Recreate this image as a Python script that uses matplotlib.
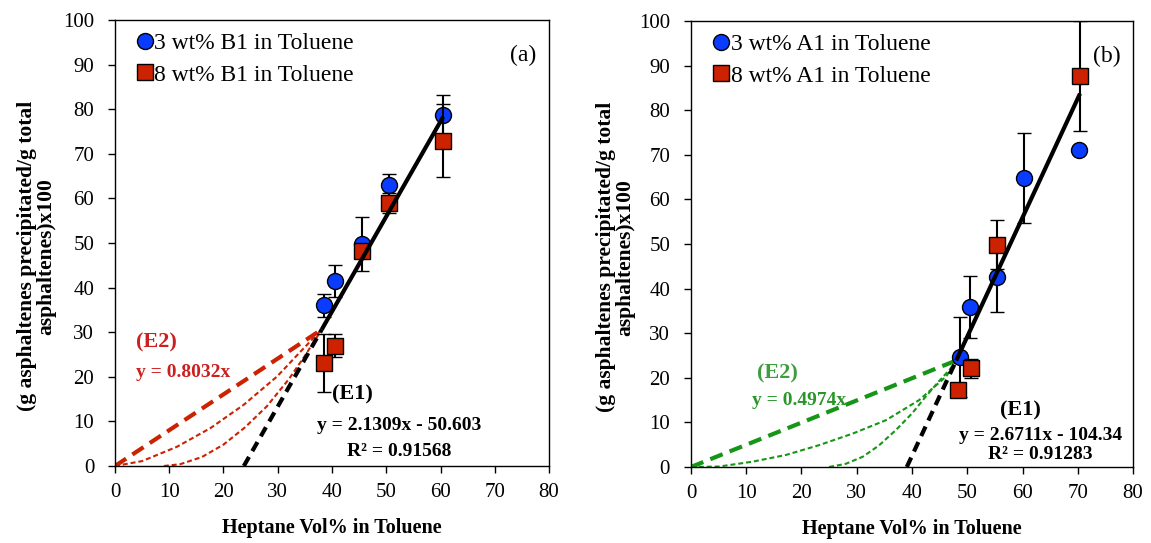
import matplotlib
matplotlib.use("Agg")
import matplotlib.pyplot as plt
from matplotlib.lines import Line2D

plt.rcParams['font.family'] = ['Liberation Serif', 'DejaVu Serif']

# panel (a): B1 data
a_blue_x = [38.5, 40.5, 45.5, 50.5, 60.5]
a_blue_y = [36.0, 41.5, 49.8, 62.9, 78.7]
a_blue_err = [2.5, 3.6, 6.0, 2.6, 4.4]
a_red_x = [38.5, 40.5, 45.5, 50.5, 60.5]
a_red_y = [23.1, 27.0, 48.2, 59.0, 72.9]
a_red_err = [6.4, 2.5, 1.5, 2.2, 8.2]

# panel (b): A1 data
b_blue_x = [48.6, 50.5, 55.3, 60.3, 70.3]
b_blue_y = [24.7, 35.9, 42.7, 64.8, 71.1]
b_blue_err = [9.0, 7.0, 8.0, 10.0, 0.0]
b_red_x = [48.3, 50.7, 55.4, 70.4]
b_red_y = [17.3, 22.1, 49.8, 87.7]
b_red_err = [0.0, 2.1, 5.5, 12.3]

# fitted lines (E1) and (E2) as printed on the chart
a_e1 = (2.1309, -50.603)
b_e1 = (2.6711, -104.34)
a_e2 = 0.8032
b_e2 = 0.4974
a_solid_x = [38.11, 60.5]
b_solid_x = [48.0, 70.4]
a_dash_x = [23.75, 38.11]
b_dash_x = [39.06, 48.0]

# hand drawn transition curves
a_mid_x = [0, 5, 11.4, 17.6, 23.7, 29.9, 34, 38.11]
a_mid_y = [0, 1.1, 4.3, 8.5, 13.7, 20.1, 25.4, 30.61]
a_low_x = [9, 12, 16, 20, 24, 28, 32, 35, 38.11]
a_low_y = [0, 0.4, 2.0, 4.8, 8.7, 13.4, 19.4, 24.7, 30.61]
b_mid_x = [0, 5.1, 11.2, 17.2, 23.2, 29.3, 35.3, 41.3, 46.2, 48.0]
b_mid_y = [0, 0.1, 1.2, 2.7, 4.9, 7.5, 10.5, 15.0, 20.3, 23.88]
b_low_x = [25, 28, 31.1, 34, 37.1, 40, 42.5, 45, 46.8, 48.0]
b_low_y = [0, 0.7, 2.3, 4.8, 8.3, 12.0, 15.8, 19.4, 21.8, 23.88]

blue = '#0A3CFF'
red = '#CC2200'
green = '#169616'

fig = plt.figure(figsize=(11.51, 5.43), dpi=100)
ax1 = fig.add_axes([0.0999, 0.1418, 0.3771, 0.8214])
ax2 = fig.add_axes([0.6003, 0.1400, 0.3841, 0.8214])


def draw_panel(ax, bx, by, be, rx, ry, re, e1, e2, solid_x, dash_x,
               mid_x, mid_y, low_x, low_y, ccol, tag, blabel, rlabel, lab_x):
    ax.errorbar(bx, by, yerr=be, fmt='o', ms=11.5, mfc=blue, mec='black',
                mew=1.0, ecolor='black', elinewidth=1.5, capsize=5,
                capthick=1.5, zorder=3)
    ax.errorbar(rx, ry, yerr=re, fmt='s', ms=11, mfc=red, mec='black',
                mew=1.0, ecolor='black', elinewidth=1.5, capsize=5,
                capthick=1.5, zorder=4)
    sx = solid_x
    ax.plot(sx, [e1[0] * v + e1[1] for v in sx], color='black', lw=3,
            zorder=5, solid_capstyle='butt')
    ax.plot(dash_x, [e1[0] * v + e1[1] for v in dash_x], color='black',
            lw=3, dashes=(2.5, 1.6), zorder=5)
    ex = [0, solid_x[0]]
    ax.plot(ex, [e2 * v for v in ex], color=ccol, lw=3, dashes=(3.2, 1.8),
            zorder=2)
    ax.plot(mid_x, mid_y, color=ccol, lw=1.5, dashes=(2.4, 1.4), zorder=2)
    ax.plot(low_x, low_y, color=ccol, lw=1.5, dashes=(2.4, 1.4), zorder=2)

    ax.set_xlim(0, 80)
    ax.set_ylim(0, 100)
    ax.set_xticks(range(0, 81, 10))
    ax.set_yticks(range(0, 101, 10))
    ax.tick_params(direction='out', length=5, width=1, labelsize=15,
                   top=False, right=False)
    ax.tick_params(axis='x', pad=7)
    ax.tick_params(axis='y', pad=10)
    for s in ax.spines.values():
        s.set_linewidth(1.0)
    ax.set_xlabel('Heptane Vol% in Toluene', fontsize=14.5,
                  fontweight='bold', labelpad=12)
    ax.set_ylabel('(g asphaltenes precipitated/g total\nasphaltenes)x100',
                  fontsize=15.5, fontweight='bold', linespacing=0.98)
    ax.yaxis.set_label_coords(lab_x, 0.47)

    handles = [
        Line2D([], [], ls='none', marker='o', ms=11.5, mfc=blue, mec='black'),
        Line2D([], [], ls='none', marker='s', ms=11, mfc=red, mec='black'),
    ]
    ax.legend(handles, [blabel, rlabel], loc='upper left',
              bbox_to_anchor=(0.023, 1.003), frameon=False, fontsize=17,
              handlelength=0.5, handletextpad=0.15, labelspacing=0.41,
              borderaxespad=0.2)
    ax.text(0.94, 0.92, tag, transform=ax.transAxes, fontsize=17,
            ha='center', va='center')


draw_panel(ax1, a_blue_x, a_blue_y, a_blue_err, a_red_x, a_red_y, a_red_err,
           a_e1, a_e2, a_solid_x, a_dash_x, a_mid_x, a_mid_y, a_low_x, a_low_y,
           red, '(a)', '3 wt% B1 in Toluene', '8 wt% B1 in Toluene', -0.135)
draw_panel(ax2, b_blue_x, b_blue_y, b_blue_err, b_red_x, b_red_y, b_red_err,
           b_e1, b_e2, b_solid_x, b_dash_x, b_mid_x, b_mid_y, b_low_x, b_low_y,
           green, '(b)', '3 wt% A1 in Toluene', '8 wt% A1 in Toluene', -0.125)

# annotations panel (a)
ax1.text(7.6, 27.6, '(E2)', color='#CC2020', fontsize=16, fontweight='bold',
         ha='center', va='center')
ax1.text(12.6, 20.9, 'y = 0.8032x', color='#CC2020', fontsize=14,
         fontweight='bold', ha='center', va='center')
ax1.text(43.7, 16.0, '(E1)', color='black', fontsize=16, fontweight='bold',
         ha='center', va='center')
ax1.text(52.3, 9.0, 'y = 2.1309x - 50.603', color='black', fontsize=14,
         fontweight='bold', ha='center', va='center')
ax1.text(52.3, 3.2, 'R² = 0.91568', color='black', fontsize=14,
         fontweight='bold', ha='center', va='center')

# annotations panel (b)
ax2.text(15.6, 21.0, '(E2)', color='#3E9E3E', fontsize=16, fontweight='bold',
         ha='center', va='center')
ax2.text(19.6, 14.8, 'y = 0.4974x', color='#2A962A', fontsize=14,
         fontweight='bold', ha='center', va='center')
ax2.text(59.6, 12.6, '(E1)', color='black', fontsize=16, fontweight='bold',
         ha='center', va='center')
ax2.text(63.2, 7.0, 'y = 2.6711x - 104.34', color='black', fontsize=14,
         fontweight='bold', ha='center', va='center')
ax2.text(63.2, 2.7, 'R² = 0.91283', color='black', fontsize=14,
         fontweight='bold', ha='center', va='center')

fig.savefig('out.png', dpi=100)
